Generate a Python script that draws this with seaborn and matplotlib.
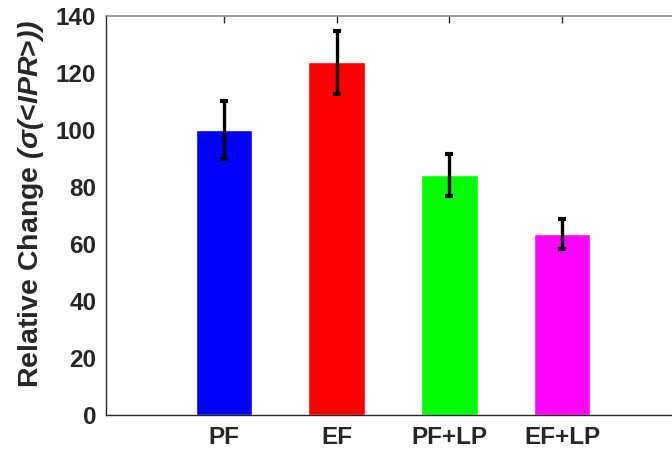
import matplotlib
matplotlib.use("Agg")
import matplotlib.pyplot as plt
import seaborn as sns
import pandas as pd
import numpy as np

categories = ["PF", "EF", "PF+LP", "EF+LP"]
values = [100.0, 123.7, 84.2, 63.5]
errors = [10.3, 11.1, 7.3, 5.4]
colors = ["#0000FF", "#FF0000", "#00FF00", "#FF00FF"]
yticks = [0, 20, 40, 60, 80, 100, 120, 140]

sns.set_style("white")
plt.rcParams["font.family"] = ["Liberation Sans", "DejaVu Sans"]
plt.rcParams["font.weight"] = "bold"
plt.rcParams["mathtext.fontset"] = "custom"
plt.rcParams["mathtext.rm"] = "Liberation Sans:italic:bold"
plt.rcParams["mathtext.it"] = "Liberation Sans:italic:bold"
plt.rcParams["mathtext.bf"] = "Liberation Sans:italic:bold"

df = pd.DataFrame({"cat": categories, "val": values})

fig = plt.figure(figsize=(6.72, 4.5), dpi=100)
ax = fig.add_axes([106 / 672, 35 / 450, (672 - 106) / 672, 399 / 450])

sns.barplot(data=df, x="cat", y="val", hue="cat", palette=colors, width=0.5,
            saturation=1, legend=False, ax=ax, errorbar=None)
ax.errorbar(np.arange(len(categories)), values, yerr=errors, fmt="none",
            ecolor="black", elinewidth=2.4, capsize=3, capthick=3)

ax.set_xlim(-1.047, 3.976)
ax.set_ylim(0, 140)
ax.set_yticks(yticks)
ax.set_yticklabels([str(t) for t in yticks])
ax.set_xlabel("")
ax.set_ylabel(r"Relative Change $(\sigma($<$IPR$>$))$", fontsize=20.5, fontweight="bold",
              color="#262626")
ax.yaxis.set_label_coords(-0.106, 0.53)
ax.tick_params(axis="both", direction="in", length=5, width=1, colors="#262626",
               labelsize=17.5, top=True, right=False)
for lab in ax.get_xticklabels() + ax.get_yticklabels():
    lab.set_fontweight("bold")
ax.tick_params(axis="x", pad=8)
ax.tick_params(axis="y", pad=7)

ax.spines["right"].set_visible(False)
for s in ["left", "bottom"]:
    ax.spines[s].set_color("#262626")
    ax.spines[s].set_linewidth(1)
ax.spines["top"].set_color("#8a8a8a")
ax.spines["top"].set_linewidth(1.2)

fig.savefig("out.png", dpi=100)
